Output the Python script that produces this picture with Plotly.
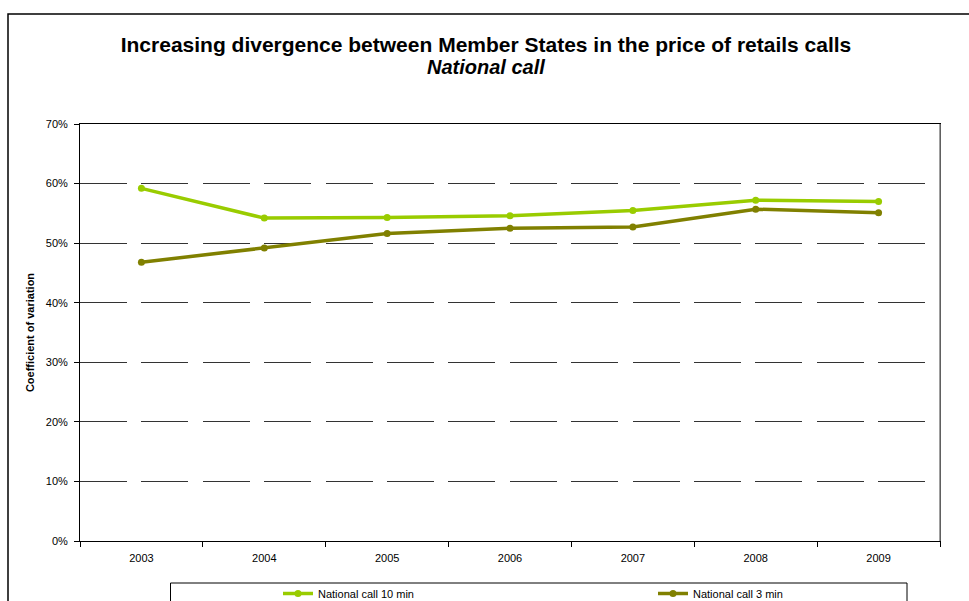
import plotly.graph_objects as go

years = ["2003", "2004", "2005", "2006", "2007", "2008", "2009"]
call_10min = [0.592, 0.542, 0.543, 0.546, 0.555, 0.572, 0.570]
call_3min = [0.468, 0.492, 0.516, 0.525, 0.527, 0.557, 0.551]
series_names = ["National call 10 min", "National call 3 min"]
colors = ["#99CC00", "#808000"]
title_line1 = "Increasing divergence between Member States in the price of retails calls"
title_line2 = "National call"

L, R, T, B = 80, 940, 124, 541
W, H = 969, 601
pw, ph = R - L, B - T

def px(x):
    return (x - L) / pw

def py(y):
    return (B - y) / ph

fig = go.Figure()
for name, vals, col in zip(series_names, [call_10min, call_3min], colors):
    fig.add_trace(go.Scatter(
        x=years, y=vals, name=name, mode="lines+markers",
        line=dict(color=col, width=3.5),
        marker=dict(color=col, size=7, symbol="circle"),
    ))

fig.update_layout(
    width=W, height=H,
    margin=dict(l=L, r=W - R, t=T, b=H - B, pad=0, autoexpand=False),
    paper_bgcolor="white", plot_bgcolor="white",
    font=dict(family="Liberation Sans, Arial, sans-serif", size=11, color="black"),
    title=dict(
        text="<b>" + title_line1 + "</b>",
        x=486 / W, xref="container", xanchor="center",
        y=1 - 45 / H, yref="container", yanchor="middle",
        font=dict(size=21, color="black"),
    ),
    annotations=[
        dict(text="<b><i>" + title_line2 + "</i></b>", xref="paper", yref="paper",
             x=px(486), y=py(67), xanchor="center", yanchor="middle", showarrow=False,
             font=dict(size=20, color="black")),
    ],
    showlegend=True,
    legend=dict(
        orientation="h", xref="container", yref="container",
        x=278 / W, y=1 - 579 / H, xanchor="left", yanchor="top",
        entrywidth=330, entrywidthmode="pixels",
        font=dict(size=11), bgcolor="rgba(0,0,0,0)", borderwidth=0,
        itemwidth=30, tracegroupgap=0,
    ),
    xaxis=dict(
        type="category", showgrid=False, showline=True, linecolor="black", linewidth=1,
        mirror=True, ticks="outside", ticklen=5, tickcolor="black", tickson="boundaries",
        tickfont=dict(size=11), range=[-0.5, 6.5], fixedrange=True,
        ticklabelstandoff=7, automargin=False,
    ),
    yaxis=dict(
        range=[0, 0.7], dtick=0.1, tickformat=".0%", showgrid=True,
        gridcolor="#333333", gridwidth=1, griddash="47px,14.4px",
        showline=True, linecolor="black", linewidth=1, mirror=True,
        ticks="outside", ticklen=5, tickcolor="black", zeroline=False,
        tickfont=dict(size=11), ticklabelstandoff=4,
        title=dict(text="<b>Coefficient of variation</b>", font=dict(size=11), standoff=8),
        automargin=False, fixedrange=True,
    ),
    shapes=[
        dict(type="line", xref="paper", yref="paper", x0=1, x1=1, y0=0, y1=1,
             line=dict(color="#808080", width=1.5)),
        dict(type="rect", xref="paper", yref="paper", x0=px(8), x1=px(990), y0=py(14), y1=py(640),
             line=dict(color="black", width=1.5), layer="below"),
        dict(type="rect", xref="paper", yref="paper", x0=px(170.5), x1=px(907), y0=py(583), y1=py(640),
             line=dict(color="black", width=1), layer="below"),
    ],
)

fig.write_html("out.html", config={"displayModeBar": False},
               post_script="document.body.style.margin='0';")
